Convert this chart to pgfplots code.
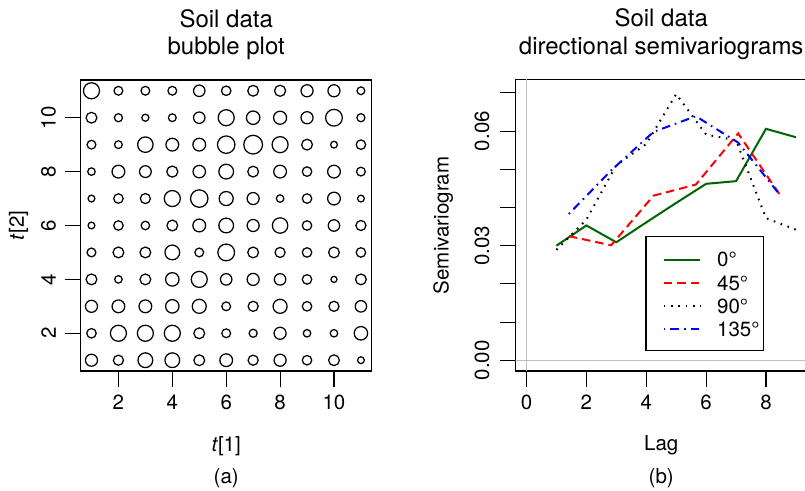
\documentclass[border=0pt]{standalone}
\usepackage{pgfplots}
\usepackage{pgfplotstable}
\pgfplotsset{compat=1.18}
\usepackage{fontspec}
\setmainfont{TeX Gyre Heros}

\newcommand{\tickfont}{\fontsize{20.5bp}{24bp}\selectfont}
\newcommand{\titlefont}{\fontsize{24bp}{28bp}\selectfont}

\definecolor{rgray}{HTML}{BEBEBE}
\definecolor{dgreen}{HTML}{006400}

% soil grid: location (t1, t2) and bubble diameter in bp
\pgfplotstableread{
x y d
1 11 17.3
2 11 10
3 11 10
4 11 10
5 11 12.7
6 11 10.7
7 11 12
8 11 12.3
9 11 13.3
10 11 13.3
11 11 9
1 10 12
2 10 9.3
3 10 8.3
4 10 9
5 10 12.7
6 10 17.3
7 10 14.7
8 10 14.3
9 10 13.3
10 10 18
11 10 9.3
1 9 10
2 9 9
3 9 16.7
4 9 14
5 9 14
6 9 18.7
7 9 20
8 9 17.3
9 9 12
10 9 8
11 9 10.7
1 8 8.7
2 8 14
3 8 13
4 8 12.3
5 8 13.7
6 8 16
7 8 12
8 8 14
9 8 10.7
10 8 14
11 8 10
1 7 8
2 7 10.7
3 7 11.3
4 7 17.3
5 7 18.7
6 7 15.3
7 7 13.3
8 7 8.7
9 7 10.7
10 7 14
11 7 8
1 6 8
2 6 10.7
3 6 9.7
4 6 12
5 6 14
6 6 16
7 6 13.3
8 6 16.7
9 6 10.7
10 6 12.7
11 6 11.3
1 5 10
2 5 12
3 5 12
4 5 16
5 5 10
6 5 18
7 5 12
8 5 11.3
9 5 10.7
10 5 12
11 5 10.7
1 4 12
2 4 8.7
3 4 12
4 4 14.7
5 4 17.3
6 4 12.7
7 4 13.3
8 4 12.7
9 4 10.7
10 4 7.3
11 4 12
1 3 13.3
2 3 14
3 3 14
4 3 14.7
5 3 15.3
6 3 10
7 3 11.3
8 3 15.3
9 3 10.7
10 3 11.3
11 3 12.7
1 2 10.7
2 2 17.3
3 2 17.3
4 2 17.3
5 2 12
6 2 10
7 2 9.3
8 2 13.3
9 2 8.7
10 2 8.7
11 2 14.7
1 1 13.3
2 1 11.3
3 1 16
4 1 16
5 1 12
6 1 14
7 1 11.3
8 1 13.3
9 1 10.7
10 1 12
11 1 8
}\soil

% directional semivariograms
\pgfplotstableread{
lag gamma
1 0.0300
2 0.0353
3 0.0309
4 0.0361
5 0.0412
6 0.0462
7 0.0469
8 0.0606
9 0.0584
}\dirA
\pgfplotstableread{
lag gamma
1.414 0.0325
2.828 0.0301
4.243 0.0431
5.657 0.0460
7.071 0.0594
8.485 0.0431
}\dirB
\pgfplotstableread{
lag gamma
1 0.0289
2 0.0368
3 0.0511
4 0.0566
5 0.0697
6 0.0591
7 0.0576
8 0.0372
9 0.0342
}\dirC
\pgfplotstableread{
lag gamma
1.414 0.0383
2.828 0.0497
4.243 0.0598
5.657 0.0639
7.071 0.0570
8.485 0.0431
}\dirD

\pgfplotsset{
  rbox/.style={
    scale only axis, width=291bp, height=291bp,
    axis line style={line width=1.1bp},
    every tick/.style={black, line width=1.1bp},
    tick align=outside, major tick length=16bp,
    tick pos=left,
    tick label style={font=\tickfont},
    /pgf/number format/assume math mode=true,
    scaled ticks=false,
    xticklabel style={anchor=north, inner sep=0pt, yshift=-8bp},
    clip mode=individual,
  },
}

\begin{document}
\begin{tikzpicture}

% (a) bubble plot
\begin{axis}[rbox, at={(80.7bp,120bp)}, anchor=south west,
  xmin=0.6, xmax=11.4, ymin=0.6, ymax=11.4,
  xtick={2,4,6,8,10}, ytick={2,4,6,8,10},
  yticklabel style={xshift=-8.5bp, rotate=90, anchor=south, inner sep=0pt}]
\addplot[scatter, only marks, mark=o, point meta=\thisrow{d},
  scatter/use mapped color={draw=black},
  mark options={line width=1.25bp},
  visualization depends on={0.5*\thisrow{d}-0.6 \as \rad},
  scatter/@pre marker code/.append style={/tikz/mark size=\rad}]
  table[x=x, y=y] {\soil};
\node[font=\titlefont, anchor=base] at (axis description cs:0.5,1.182) {Soil data};
\node[font=\titlefont, anchor=base] at (axis description cs:0.5,1.086) {bubble plot};
\node[font=\tickfont, anchor=base] at (axis description cs:0.5,-0.275) {\textit{t}[1]};
\node[font=\tickfont, anchor=base] at (axis description cs:0.5,-0.388) {(a)};
\node[font=\tickfont, anchor=base, rotate=90] at (axis description cs:-0.195,0.5) {\textit{t}[2]};
\end{axis}

% (b) directional semivariograms
\begin{axis}[rbox, at={(515.7bp,120bp)}, anchor=south west,
  xmin=-0.36, xmax=9.36, ymin=-0.0028, ymax=0.0734,
  xtick={0,2,4,6,8},
  ytick={0,0.01,0.02,0.03,0.04,0.05,0.06,0.07},
  yticklabels={0.00,,,0.03,,,0.06,},
  yticklabel style={xshift=-10bp, rotate=90, anchor=south, inner sep=0pt},
  legend style={at={(axis description cs:0.505,0.409)}, anchor=north west,
    draw=none, fill=none, inner sep=0pt, font=\tickfont, row sep=8.5bp,
    nodes={inner sep=0pt, text height=14.8bp, text depth=0pt, anchor=west}},
  legend cell align=left,
  legend image code/.code={\draw[#1] (0bp,0bp) -- (36.6bp,0bp);},
  /tikz/every odd column/.append style={column sep=15.7bp},
  ]
\addplot[rgray, line width=1.3bp, forget plot] coordinates {(0,-1) (0,1)};
\addplot[rgray, line width=1.3bp, forget plot] coordinates {(-1,0) (10,0)};
\addplot[dgreen, line width=2bp] table[x=lag, y=gamma] {\dirA};
\addplot[red, line width=2bp, dash pattern=on 8.5bp off 5bp] table[x=lag, y=gamma] {\dirB};
\addplot[black, line width=2bp, dash pattern=on 1.6bp off 5.7bp] table[x=lag, y=gamma] {\dirC};
\addplot[blue, line width=2bp, dash pattern=on 1.6bp off 5bp on 8.5bp off 5bp] table[x=lag, y=gamma] {\dirD};
\legend{0°, 45°, 90°, 135°}
\draw[line width=1.1bp] (axis description cs:0.4476,0.4615) rectangle (axis description cs:0.8506,0.0698);
\node[font=\titlefont, anchor=base] at (axis description cs:0.5,1.182) {Soil data};
\node[font=\titlefont, anchor=base] at (axis description cs:0.5,1.086) {directional semivariograms};
\node[font=\tickfont, anchor=base] at (axis description cs:0.5,-0.275) {Lag};
\node[font=\tickfont, anchor=base] at (axis description cs:0.5,-0.388) {(b)};
\node[font=\tickfont, anchor=base, rotate=90] at (axis description cs:-0.2305,0.5) {Semivariogram};
\end{axis}

\pgfresetboundingbox
\path[use as bounding box] (0,0) rectangle (805bp,491bp);
\end{tikzpicture}
\end{document}
